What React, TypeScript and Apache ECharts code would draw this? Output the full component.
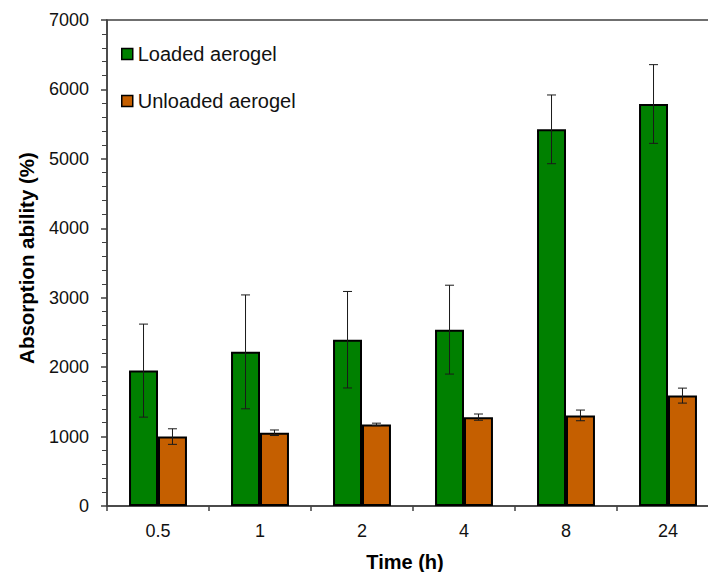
import React, { useEffect, useRef } from "react";
import * as echarts from "echarts";

const categories = ["0.5", "1", "2", "4", "8", "24"];
const loaded = [1950, 2220, 2395, 2540, 5425, 5790];
const loadedErr = [670, 820, 695, 640, 495, 567];
const unloaded = [1000, 1055, 1175, 1280, 1305, 1590];
const unloadedErr = [112, 40, 18, 45, 77, 108];
const yTicks = { min: 0, max: 7000, interval: 1000 };

const GREEN = "#008000";
const ORANGE = "#C55F00";
const BAR_FRAC = 0.284;
const FONT = "'Liberation Sans', Arial, sans-serif";

function errSeries(name: string, vals: number[], errs: number[], sign: number) {
  return {
    type: "custom",
    name,
    z: 10,
    silent: true,
    encode: { x: 0, y: [1, 2] },
    data: vals.map((v, i) => [i, v - errs[i], v + errs[i]]),
    renderItem: (params: any, api: any) => {
      const i = api.value(0);
      const lo = api.value(1);
      const hi = api.value(2);
      const catW = api.size([1, 0])[0];
      const off = ((catW * BAR_FRAC) / 2) * sign;
      const top = api.coord([i, hi]);
      const bot = api.coord([i, lo]);
      const x = top[0] + off;
      const cap = 4.5;
      const style = { stroke: "#1a1a1a", lineWidth: 1 };
      return {
        type: "group",
        children: [
          { type: "line", shape: { x1: x, y1: top[1], x2: x, y2: bot[1] }, style },
          { type: "line", shape: { x1: x - cap, y1: top[1], x2: x + cap, y2: top[1] }, style },
          { type: "line", shape: { x1: x - cap, y1: bot[1], x2: x + cap, y2: bot[1] }, style },
        ],
      };
    },
  };
}

export default function App() {
  const ref = useRef<HTMLDivElement>(null);
  useEffect(() => {
    if (!ref.current) return;
    const chart = echarts.init(ref.current, null, { renderer: "svg" });
    chart.setOption({
      animation: false,
      backgroundColor: "#ffffff",
      textStyle: { fontFamily: FONT },
      grid: {
        left: 107,
        top: 20,
        width: 612,
        height: 486,
        containLabel: false,
        outerBoundsMode: "none",
        show: true,
        borderColor: "#404040",
        borderWidth: 1.5,
        backgroundColor: "transparent",
      },
      legend: {
        orient: "vertical",
        left: 121,
        top: 44,
        padding: 0,
        itemWidth: 11,
        itemHeight: 11,
        itemGap: 27,
        icon: "rect",
        data: ["Loaded aerogel", "Unloaded aerogel"],
        itemStyle: { borderColor: "#000", borderWidth: 1.5 },
        textStyle: { fontSize: 20, color: "#111", fontFamily: FONT },
      },
      xAxis: {
        type: "category",
        data: categories,
        name: "Time (h)",
        nameLocation: "middle",
        nameGap: 46,
        nameTextStyle: {
          fontSize: 20,
          fontWeight: "bold",
          color: "#000",
          fontFamily: FONT,
          padding: [0, 16, 0, 0],
        },
        axisLine: { lineStyle: { color: "#404040", width: 1.5 } },
        axisTick: { show: true, length: 5, lineStyle: { color: "#404040", width: 1.5 } },
        axisLabel: { fontSize: 18, color: "#111", margin: 16, fontFamily: FONT },
        splitLine: { show: false },
      },
      yAxis: {
        type: "value",
        min: yTicks.min,
        max: yTicks.max,
        interval: yTicks.interval,
        name: "Absorption ability (%)",
        nameLocation: "middle",
        nameGap: 70,
        nameTextStyle: {
          fontSize: 20.5,
          fontWeight: "bold",
          color: "#000",
          fontFamily: FONT,
          padding: [0, 0, 0, 10],
        },
        axisLine: { show: true, lineStyle: { color: "#404040", width: 1.5 } },
        axisTick: { show: true, length: 6, lineStyle: { color: "#404040", width: 1.5 } },
        minorTick: { show: true, splitNumber: 5, length: 5, lineStyle: { color: "#404040", width: 1 } },
        axisLabel: {
          fontSize: 18,
          color: "#111",
          margin: 18,
          fontFamily: FONT,
          formatter: (v: number) => String(v),
        },
        splitLine: { show: false },
      },
      series: [
        {
          type: "bar",
          name: "Loaded aerogel",
          data: loaded,
          barWidth: (BAR_FRAC * 100).toFixed(1) + "%",
          barGap: "0%",
          itemStyle: { color: GREEN, borderColor: "#000", borderWidth: 2 },
        },
        {
          type: "bar",
          name: "Unloaded aerogel",
          data: unloaded,
          barWidth: (BAR_FRAC * 100).toFixed(1) + "%",
          barGap: "0%",
          itemStyle: { color: ORANGE, borderColor: "#000", borderWidth: 2 },
        },
        errSeries("errLoaded", loaded, loadedErr, -1),
        errSeries("errUnloaded", unloaded, unloadedErr, 1),
      ],
    });
    return () => chart.dispose();
  }, []);
  return (
    <div
      style={{
        position: "fixed",
        left: 0,
        top: 0,
        width: 708,
        height: 572,
        overflow: "hidden",
        background: "#fff",
      }}
    >
      <div ref={ref} style={{ width: 740, height: 572 }} />
    </div>
  );
}
